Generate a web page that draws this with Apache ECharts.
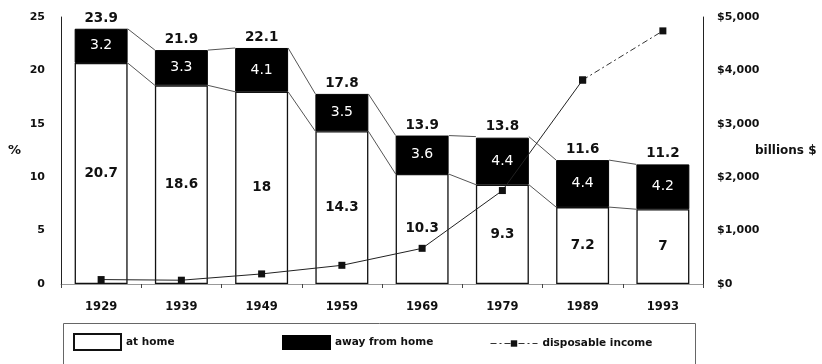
<!DOCTYPE html>
<html>
<head>
<meta charset="utf-8">
<script src="https://cdn.jsdelivr.net/npm/echarts@6/dist/echarts.min.js"></script>
<style>
  html, body { margin: 0; padding: 0; background: #fff; }
  #chart { width: 822px; height: 364px; }
</style>
</head>
<body>
<div id="chart"></div>
<script>
// Food spending share of disposable income, 1929-1993
const years = ['1929', '1939', '1949', '1959', '1969', '1979', '1989', '1993'];
const atHome = [20.7, 18.6, 18, 14.3, 10.3, 9.3, 7.2, 7];
const awayFromHome = [3.2, 3.3, 4.1, 3.5, 3.6, 4.4, 4.4, 4.2];
const totals = [23.9, 21.9, 22.1, 17.8, 13.9, 13.8, 11.6, 11.2];
// disposable income, billions of dollars
const disposableIncome = [83, 71, 189, 350, 668, 1750, 3820, 4740];

const FONT = '"DejaVu Sans", Verdana, sans-serif';
const BAR_RATIO = 0.66;

// pairs of neighbouring values for the thin connector lines between bars
function pairs(arr) {
  const out = [];
  for (let i = 0; i < arr.length - 1; i++) out.push([i, arr[i], arr[i + 1]]);
  return out;
}

// income drawn solid up to 1989, dash-dotted after
const incomeSolid = disposableIncome.map((v, i) => (i <= 6 ? v : null));
const incomeDashed = disposableIncome.map((v, i) => (i >= 6 ? v : null));

const chart = echarts.init(document.getElementById('chart'), null, { renderer: 'canvas' });

const connector = (name, data) => ({
  name: name,
  type: 'custom',
  yAxisIndex: 0,
  z: 1,
  silent: true,
  encode: { x: 0, y: [1, 2] },
  data: data,
  renderItem: function (params, api) {
    const i = api.value(0);
    const p0 = api.coord([i, api.value(1)]);
    const p1 = api.coord([i + 1, api.value(2)]);
    const half = api.size([1, 0])[0] * BAR_RATIO / 2;
    return {
      type: 'line',
      shape: { x1: p0[0] + half, y1: p0[1], x2: p1[0] - half, y2: p1[1] },
      style: { stroke: '#555', lineWidth: 1 }
    };
  }
});

const legendText = { fontFamily: FONT, fontWeight: 'bold', fontSize: 10.5, color: '#111' };

chart.setOption({
  animation: false,
  backgroundColor: '#fff',
  textStyle: { fontFamily: FONT },
  grid: { left: 61, right: 119, top: 17, bottom: 80, containLabel: false, outerBoundsMode: 'none' },
  legend: [
    {
      data: [{ name: 'at home', icon: 'rect' }], left: 73, top: 333, itemWidth: 47, itemHeight: 16,
      textStyle: legendText, padding: 0
    },
    {
      data: [{ name: 'away from home', icon: 'rect' }], left: 282, top: 335, itemWidth: 47, itemHeight: 13,
      textStyle: legendText, padding: 0
    },
    {
      data: [{ name: 'disposable income', lineStyle: { type: [6, 3, 2, 3], width: 1, color: '#333' } }],
      left: 490, top: 338, itemWidth: 47, itemHeight: 8,
      textStyle: legendText, padding: 0
    }
  ],
  graphic: [
    {
      type: 'rect', silent: true, z: -1,
      shape: { x: 63.5, y: 323.5, width: 632, height: 60 },
      style: { fill: 'none', stroke: '#666', lineWidth: 1 }
    }
  ],
  xAxis: {
    type: 'category',
    data: years,
    axisLine: { show: true, lineStyle: { color: '#999', width: 1 } },
    axisTick: { show: true, alignWithLabel: false, length: 4, lineStyle: { color: '#444' } },
    axisLabel: { fontFamily: FONT, fontWeight: 'bold', fontSize: 11.5, color: '#111', margin: 17 }
  },
  yAxis: [
    {
      type: 'value', min: 0, max: 25, interval: 5,
      name: '%', nameLocation: 'middle', nameRotate: 0, nameGap: 40,
      nameTextStyle: { fontFamily: FONT, fontWeight: 'bold', fontSize: 13, color: '#111' },
      axisLine: { show: true, lineStyle: { color: '#222', width: 1 } },
      axisTick: { show: false },
      splitLine: { show: false },
      axisLabel: { fontFamily: FONT, fontWeight: 'bold', fontSize: 11, color: '#111', margin: 16 }
    },
    {
      type: 'value', min: 0, max: 5000, interval: 1000, position: 'right',
      name: 'billions $', nameLocation: 'middle', nameRotate: 0, nameGap: 52,
      nameMoveOverlap: false,
      nameTextStyle: { fontFamily: FONT, fontWeight: 'bold', fontSize: 12, color: '#111', align: 'left' },
      axisLine: { show: true, lineStyle: { color: '#222', width: 1 } },
      axisTick: { show: false },
      splitLine: { show: false },
      axisLabel: {
        fontFamily: FONT, fontWeight: 'bold', fontSize: 11, color: '#111', margin: 14,
        formatter: v => '$' + v.toLocaleString('en-US')
      }
    }
  ],
  series: [
    connector('top connectors', pairs(totals)),
    connector('at-home connectors', pairs(atHome)),
    {
      name: 'at home',
      type: 'bar',
      stack: 'food',
      barWidth: (BAR_RATIO * 100) + '%',
      z: 2,
      itemStyle: { color: '#fff', borderColor: '#111', borderWidth: 1.3 },
      label: {
        show: true, position: 'inside', fontFamily: FONT, fontWeight: 'bold',
        fontSize: 13.5, color: '#111'
      },
      data: atHome
    },
    {
      name: 'away from home',
      type: 'bar',
      stack: 'food',
      z: 2,
      itemStyle: { color: '#000', borderColor: '#000', borderWidth: 1 },
      label: {
        show: true, position: 'inside', fontFamily: FONT, fontSize: 14, color: '#fff'
      },
      data: awayFromHome
    },
    {
      name: 'total',
      type: 'scatter',
      symbolSize: 1,
      z: 3,
      silent: true,
      itemStyle: { color: 'rgba(0,0,0,0)', opacity: 1 },
      label: {
        show: true, position: 'top', distance: 3, fontFamily: FONT, fontWeight: 'bold',
        fontSize: 13.5, color: '#111', formatter: p => String(p.value)
      },
      data: totals
    },
    {
      name: 'disposable income',
      type: 'line',
      yAxisIndex: 1,
      z: 5,
      symbol: 'rect',
      symbolSize: 7,
      itemStyle: { color: '#111' },
      lineStyle: { color: '#222', width: 1 },
      data: incomeSolid
    },
    {
      name: 'disposable income',
      type: 'line',
      yAxisIndex: 1,
      z: 5,
      symbol: 'rect',
      symbolSize: 7,
      itemStyle: { color: '#111' },
      lineStyle: { color: '#333', width: 1, type: [6, 3, 2, 3] },
      data: incomeDashed
    }
  ]
});
</script>
</body>
</html>
